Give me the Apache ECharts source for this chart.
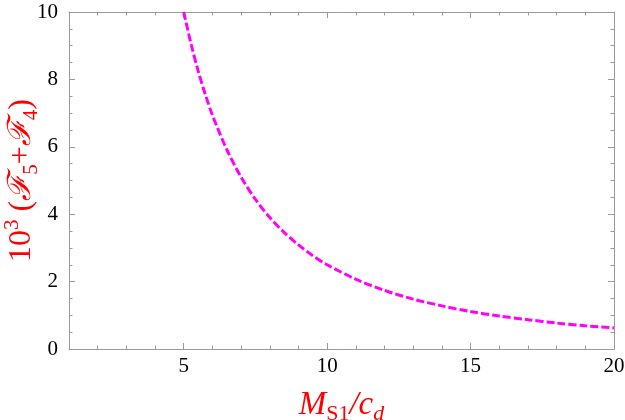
<!DOCTYPE html>
<html>
<head>
<meta charset="utf-8">
<script src="https://cdn.jsdelivr.net/npm/echarts@6/dist/echarts.min.js"></script>
<style>
html,body{margin:0;padding:0;background:#fff;}
#c{width:625px;height:420px;}
</style>
</head>
<body>
<div id="c"></div>
<script>
// Data
var xValues = [5, 5.25, 5.5, 5.75, 6, 6.5, 7, 7.5, 8, 8.5, 9, 9.5, 10, 11, 12, 13, 14, 15, 16, 17, 18, 19, 20];
var yValues = [10, 9.07, 8.26, 7.56, 6.94, 5.92, 5.1, 4.44, 3.9, 3.46, 3.09, 2.77, 2.5, 2.07, 1.74, 1.48, 1.28, 1.11, 0.98, 0.87, 0.77, 0.69, 0.625];
var xMajorTicks = [5, 10, 15, 20];
var xRange = [1, 20];
var yRange = [0, 10];

var frameColor = '#9a9a9a';
var serif = '"Liberation Serif", "DejaVu Serif", serif';

var points = xValues.map(function (x, i) { return [x, yValues[i]]; });

function xAxisDef(pos, major, isMain) {
  var a = {
    type: 'value', position: pos, min: xRange[0], max: xRange[1], interval: 1,
    axisLine: { show: isMain || !major, lineStyle: { color: frameColor, width: 1 } },
    axisTick: { show: true, inside: true, length: major ? 6 : 3.5, lineStyle: { color: frameColor, width: 1 } },
    axisLabel: { show: false },
    splitLine: { show: false }
  };
  if (major) {
    a.axisTick.customValues = xMajorTicks;
    a.axisLine.show = false;
  }
  if (isMain) {
    a.axisLabel = {
      show: true, customValues: xMajorTicks, color: '#000',
      fontFamily: serif, fontSize: 21, margin: 7
    };
    a.name = '{m|M}{s|S1}{m|/}{m|c}{d|d}';
    a.nameLocation = 'middle';
    a.nameGap = 36;
    a.nameMoveOverlap = false;
    a.nameTextStyle = {
      rich: {
        m: { fontFamily: serif, fontStyle: 'italic', fontSize: 33, color: '#ff0000', lineHeight: 40 },
        s: { fontFamily: serif, fontSize: 22, color: '#ff0000', verticalAlign: 'bottom', lineHeight: 34 },
        d: { fontFamily: serif, fontStyle: 'italic', fontSize: 22, color: '#ff0000', verticalAlign: 'bottom', lineHeight: 34 }
      }
    };
  }
  return a;
}

function yAxisDef(pos, isMain) {
  var a = {
    type: 'value', position: pos, min: yRange[0], max: yRange[1], interval: 2,
    axisLine: { show: true, lineStyle: { color: frameColor, width: 1 } },
    axisTick: { show: true, inside: true, length: 6, lineStyle: { color: frameColor, width: 1 } },
    minorTick: { show: true, splitNumber: 4, length: 3.5, lineStyle: { color: frameColor, width: 1 } },
    axisLabel: { show: false },
    splitLine: { show: false }
  };
  if (isMain) {
    a.axisLabel = { show: true, color: '#000', fontFamily: serif, fontSize: 21, margin: 11 };
    a.name = '{n|10}{p|3}{n| (}{f|ℱ}{q|5}{n|+}{f|ℱ}{q|4}{n|)}';
    a.nameLocation = 'middle';
    a.nameRotate = 90;
    a.nameGap = 27;
    a.nameMoveOverlap = false;
    a.nameTextStyle = {
      rich: {
        n: { fontFamily: serif, fontSize: 32, color: '#ff0000', lineHeight: 40 },
        f: { fontFamily: serif, fontStyle: 'italic', fontSize: 32, color: '#ff0000', lineHeight: 40 },
        p: { fontFamily: serif, fontSize: 21, color: '#ff0000', verticalAlign: 'top', lineHeight: 40 },
        q: { fontFamily: serif, fontSize: 21, color: '#ff0000', verticalAlign: 'bottom', lineHeight: 34 }
      }
    };
  }
  return a;
}

var chart = echarts.init(document.getElementById('c'), null, { renderer: 'canvas' });
chart.setOption({
  animation: false,
  backgroundColor: '#fff',
  grid: { left: 69, right: 11, top: 12, bottom: 71, containLabel: false, outerBoundsMode: 'none' },
  xAxis: [
    xAxisDef('bottom', false, true),
    xAxisDef('bottom', true, false),
    xAxisDef('top', false, false),
    xAxisDef('top', true, false)
  ],
  yAxis: [
    yAxisDef('left', true),
    yAxisDef('right', false)
  ],
  series: [{
    type: 'line',
    xAxisIndex: 0,
    yAxisIndex: 0,
    data: points,
    smooth: 0.3,
    showSymbol: false,
    clip: true,
    lineStyle: { color: '#ff00ff', width: 3, type: [8, 3] }
  }]
});
</script>
</body>
</html>
